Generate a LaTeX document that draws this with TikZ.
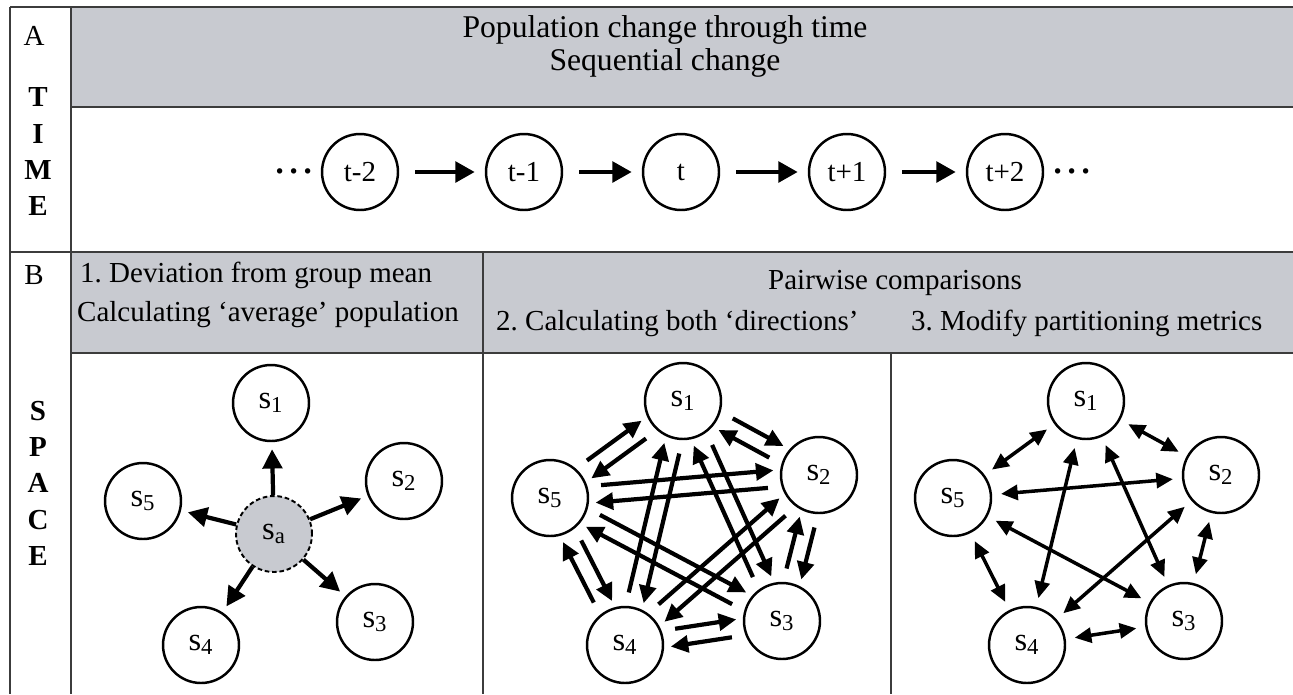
\documentclass[tikz,border=0pt]{standalone}
\usepackage{fontspec}
\setmainfont{Liberation Serif}
\usetikzlibrary{arrows.meta,calc}
\frenchspacing
\definecolor{headgray}{RGB}{200,202,208}
\definecolor{linegray}{RGB}{60,60,60}
\tikzset{
  pop/.style={circle,draw=black,line width=1.4pt,minimum size=1.52cm,inner sep=0pt,font=\fontsize{16.5}{18}\selectfont},
  spop/.style={pop,font=\fontsize{18.5}{20}\selectfont},
  meanpop/.style={spop,fill=headgray,line width=1.1pt,dash pattern=on 2.6pt off 1.6pt},
  steparrow/.style={-{Triangle[length=11pt,width=11.5pt]},line width=2.6pt,shorten <=0.32cm,shorten >=0.2cm},
  outarrow/.style={-{Triangle[length=11pt,width=11pt]},line width=2.4pt,shorten >=0.14cm},
  pairarrow/.style={-{Triangle[length=10pt,width=9.5pt]},line width=2.4pt},
  botharrow/.style={{Triangle[length=9.5pt,width=8.5pt]}-{Triangle[length=9.5pt,width=8.5pt]},line width=2pt,shorten <=0.18cm,shorten >=0.18cm},
  gridline/.style={draw=linegray,line width=1.1pt},
  titletext/.style={font=\fontsize{18}{19}\selectfont,anchor=base},
  headtext/.style={font=\fontsize{16.5}{18}\selectfont,anchor=base},
  sidetext/.style={font=\fontsize{16.5}{18}\selectfont},
  sideletter/.style={font=\fontsize{16.5}{18}\bfseries\selectfont},
  dotstext/.style={font=\fontsize{26}{26}\selectfont,anchor=base}
}
\begin{document}
\begin{tikzpicture}[x=0.02cm,y=-0.02cm]
\useasboundingbox (0,0) rectangle (1293,694);
% grey header bands
\fill[headgray] (71,7) rectangle (1293,107);
\fill[headgray] (71,252) rectangle (1293,353);
% table lines
\draw[gridline] (10,7) -- (1293,7);
\draw[gridline] (10,7) -- (10,694);
\draw[gridline] (71,7) -- (71,694);
\draw[gridline] (71,107) -- (1293,107);
\draw[gridline] (10,252) -- (1293,252);
\draw[gridline] (71,353) -- (1293,353);
\draw[gridline] (483,252) -- (483,694);
\draw[gridline] (891,353) -- (891,694);

% left column
\node[sidetext] (markA) at (34,36) {A};
\foreach \ch/\yy in {T/97,I/134,M/170,E/206}
  \node[sideletter] (time\ch) at (38,\yy) {\ch};
\node[sidetext] (markB) at (34,275) {B};
\foreach \ch/\yy [count=\k] in {S/411,P/447,A/483,C/520,E/556}
  \node[sideletter] (space\k) at (38,\yy) {\ch};

% headers
\node[titletext] (titleA) at (665,37) {Population change through time};
\node[titletext] (subA) at (665,70) {Sequential change};
\node[headtext,anchor=base west] (headone) at (74,282) {1. Deviation from group mean};
\node[headtext,anchor=base west] (headonesub) at (71,321) {Calculating `average' population};
\node[headtext] (headpair) at (895,289) {Pairwise comparisons};
\node[headtext,anchor=base west] (headtwo) at (490,330) {2. Calculating both `directions'};
\node[headtext,anchor=base west] (headthree) at (905,330) {3. Modify partitioning metrics};

% time sequence
\node[pop] (tm2) at (360,172) {t-2};
\node[pop] (tm1) at (524,172) {t-1};
\node[pop] (t0) at (681,172) {t};
\node[pop] (tp1) at (847,172) {t+1};
\node[pop] (tp2) at (1005,172) {t+2};
\node[dotstext] (dotsL) at (294,186) {\textperiodcentered\kern-0.5pt\textperiodcentered\kern-0.5pt\textperiodcentered};
\node[dotstext] (dotsR) at (1072,186) {\textperiodcentered\kern-0.5pt\textperiodcentered\kern-0.5pt\textperiodcentered};
\foreach \a/\b in {tm2/tm1,tm1/t0,t0/tp1,tp1/tp2}
  \draw[steparrow] (\a) -- (\b);

% 1. deviation from the mean
\node[meanpop] (sa) at (274,534) {s\textsubscript{a}};
\node[spop] (a1) at (271,403) {s\textsubscript{1}};
\node[spop] (a2) at (404,481) {s\textsubscript{2}};
\node[spop] (a3) at (375,622) {s\textsubscript{3}};
\node[spop] (a4) at (201,645) {s\textsubscript{4}};
\node[spop] (a5) at (143,501) {s\textsubscript{5}};
\foreach \k in {1,...,5}
  \draw[outarrow] (sa) -- (a\k);

% 2. both directions
\node[spop] (b1) at (683,401) {s\textsubscript{1}};
\node[spop] (b2) at (819,475) {s\textsubscript{2}};
\node[spop] (b3) at (782,621) {s\textsubscript{3}};
\node[spop] (b4) at (625,645) {s\textsubscript{4}};
\node[spop] (b5) at (550,498) {s\textsubscript{5}};
\foreach \i/\j in {1/2,2/1,1/3,3/1,1/4,4/1,1/5,5/1,2/3,3/2,2/4,4/2,2/5,5/2,3/4,4/3,3/5,5/3,4/5,5/4}
  \draw[pairarrow] ($(b\i)!1.04cm!(b\j)!0.17cm!90:(b\j)$) -- ($(b\j)!0.9cm!(b\i)!0.17cm!-90:(b\i)$);

% 3. partitioning metrics
\node[spop] (c1) at (1086,401) {s\textsubscript{1}};
\node[spop] (c2) at (1221,475) {s\textsubscript{2}};
\node[spop] (c3) at (1184,621) {s\textsubscript{3}};
\node[spop] (c4) at (1027,645) {s\textsubscript{4}};
\node[spop] (c5) at (953,498) {s\textsubscript{5}};
\foreach \i/\j in {1/2,2/3,3/4,4/5,5/1,1/3,1/4,2/4,2/5,3/5}
  \draw[botharrow] (c\i) -- (c\j);
\end{tikzpicture}
\end{document}
